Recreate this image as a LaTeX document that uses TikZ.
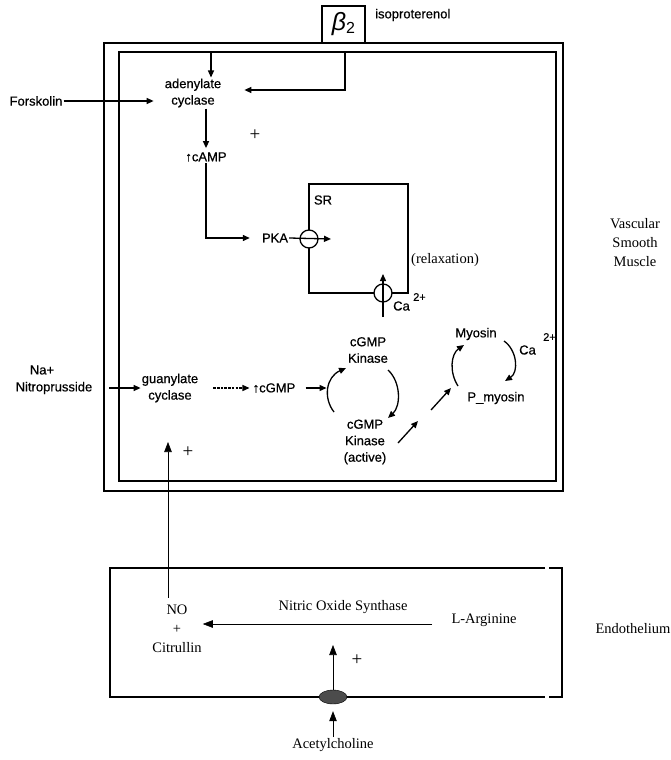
\documentclass[tikz,border=0pt]{standalone}
\usepackage{fontspec}
\setmainfont{Liberation Serif}
\newfontfamily\scanfont[FakeBold=0.6]{Liberation Sans}
\newfontfamily\greekfont{Liberation Sans}
\usetikzlibrary{positioning,arrows.meta,calc,shapes.geometric}

\begin{document}
\begin{tikzpicture}[
    x=1pt, y=-1pt,
    sans/.style={font=\scanfont\fontsize{13}{16.5}\selectfont, align=center, inner sep=1pt},
    serif/.style={font=\fontsize{14.5}{19}\selectfont, align=center, inner sep=1pt},
    plus/.style={font=\fontsize{19}{19}\selectfont, inner sep=0pt},
    sup/.style={font=\scanfont\fontsize{11}{11}\selectfont, inner sep=0pt},
    wall/.style={line width=1.7pt},
    endo/.style={line width=1.1pt},
    arrow/.style={-{Triangle[length=7pt,width=6pt]}, line width=1.3pt},
    thinarrow/.style={-{Triangle[length=10pt,width=7.5pt]}, line width=0.6pt},
    pump/.style={circle, draw, fill=white, line width=1.3pt, minimum size=18pt, inner sep=0pt}
]
\useasboundingbox (0,0) rectangle (671,760);

% smooth muscle cell
\draw[wall] (104,43) rectangle (563,491);
\draw[wall] (119,52) rectangle (556,481);
\node[draw, wall, fill=white, minimum width=43pt, minimum height=37pt, inner sep=0pt]
    (beta) at (343.5,24.5)
    {\greekfont\fontsize{25}{25}\selectfont\itshape β\raisebox{-3pt}{\upshape\fontsize{16}{16}\selectfont 2}};
\node[sans, anchor=west] (iso) at (374,15) {isoproterenol};
\node[serif] (vsm) at (635,243) {Vascular\\Smooth\\Muscle};

% cAMP branch
\node[sans] (forsk) at (36,101) {Forskolin};
\node[sans] (adcy) at (193,93) {adenylate\\cyclase};
\node[sans] (camp) at (206,157) {\textuparrow cAMP};
\node[plus] (plusa) at (255,135) {+};
\node[sans] (pka) at (275,238) {PKA};
\coordinate (gs1) at (211,52);
\coordinate (gs2) at (345,52);
\draw[arrow] (gs1) -- (gs1 |- adcy.north);
\draw[arrow, shorten >=22pt] (gs2) |- ($(adcy.east)+(0,-3)$);
\draw[arrow, shorten >=10pt] (forsk.east) -- (forsk.east -| adcy.west);
\draw[arrow, shorten >=3pt] (camp.north |- adcy.south) -- (camp.north);
\draw[arrow, shorten >=11pt] (camp.south) |- (pka.west);

% sarcoplasmic reticulum
\node[draw, line width=1.3pt, minimum width=99pt, minimum height=109pt, inner sep=0pt]
    (sr) at (358.5,238.5) {};
\node[sans] (srlabel) at (323,200) {SR};
\node[pump] (pumpa) at (309,239) {};
\node[pump] (pumpb) at (383,293) {};
\coordinate (pumpaout) at (331,239);
\coordinate (caup) at (383,317);
\coordinate (pumpbout) at (383,274);
\draw[arrow] (pka.east) -- (pumpaout);
\draw[arrow] (caup) -- (pumpbout);
\node[sans, anchor=west] (casr) at (392,306) {Ca};
\node[sup, anchor=west] at (413,297) {2+};
\node[serif, anchor=west] (relax) at (410,260) {(relaxation)};

% cGMP branch
\node[sans] (na) at (42,370) {Na+};
\node[sans] (nitro) at (54,388) {Nitroprusside};
\node[sans] (guan) at (170,388) {guanylate\\cyclase};
\node[sans] (cgmp) at (274,388) {\textuparrow cGMP};
\node[sans] (kin) at (368,350) {cGMP\\Kinase};
\node[sans] (kinact) at (365,442) {cGMP\\Kinase\\(active)};
\node[sans] (myo) at (476,334) {Myosin};
\node[sans] (pmyo) at (496,398) {P\_myosin};
\node[sans, anchor=west] (camyo) at (518,350) {Ca};
\node[sup, anchor=west] at (543,337) {2+};
\node[plus] (plusb) at (188,452) {+};
\coordinate (nain) at (109,388);
\draw[arrow] (nain) -- (guan.west);
\draw[arrow, dash pattern=on 2.5pt off 1.2pt, shorten <=14pt, shorten >=2pt] (guan.east) -- (cgmp.west);
\draw[arrow, shorten <=9pt, shorten >=-29pt] (cgmp.east) -- ++(1,0);
\draw[arrow] (334,412) .. controls (323,398) and (326,377) .. (346,368);
\draw[arrow] (388,370) .. controls (401,382) and (401,406) .. (388,418);
\draw[arrow] (398,443) -- (418,421);
\draw[arrow] (431,410) -- (451,388);
\draw[arrow] (458,386) .. controls (449,372) and (451,354) .. (464,345);
\draw[arrow] (504,341) .. controls (517,350) and (519,372) .. (505,381);

% endothelium
\draw[endo] (545,568) -| (110,697) -- (545,697);
\draw[endo] (549,568) -| (562,697) -- (549,697);
\node[serif] (endoth) at (633,629) {Endothelium};
\node[serif] (no) at (177,629) {NO\\+\\Citrullin};
\node[serif] (nos) at (343,607) {Nitric Oxide Synthase};
\node[serif] (larg) at (484,620) {L-Arginine};
\node[plus] (plusc) at (357,660) {+};
\node[ellipse, draw, fill=black!70, minimum width=28pt, minimum height=14pt, inner sep=0pt]
    (recep) at (333,697) {};
\node[serif] (ach) at (333,745) {Acetylcholine};
\coordinate (nosstart) at (432,624);
\coordinate (gcin) at (168,442);
\coordinate (nosin) at (333,645);
\draw[thinarrow] (nosstart) -- (no.east |- nosstart);
\draw[thinarrow] ($(no.north)+(-9,-6)$) -- (gcin);
\draw[thinarrow] (recep.north) -- (nosin);
\draw[thinarrow, shorten >=7pt] (ach.north) -- (recep.south);
\end{tikzpicture}
\end{document}
